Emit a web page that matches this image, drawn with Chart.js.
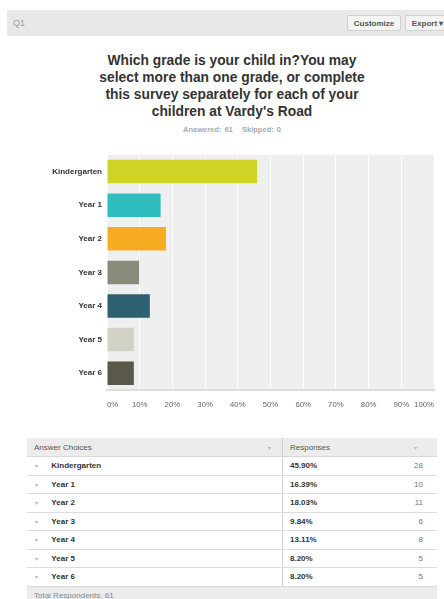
<!DOCTYPE html>
<html>
<head>
<meta charset="utf-8">
<script src="https://cdn.jsdelivr.net/npm/chart.js@4/dist/chart.umd.min.js"></script>
<style>
  body { margin: 0; width: 444px; height: 599px; overflow: hidden; background: #fff; font-family: "Liberation Sans", Arial, sans-serif; position: relative; }
  #topbar { position: absolute; left: 7px; top: 10px; width: 437px; height: 26px; background: #e8e8e8; }
  #q1 { position: absolute; left: 6px; top: 8px; font-size: 9px; color: #9a9a9a; }
  .btn { position: absolute; top: 5px; height: 16px; line-height: 16px; background: #f4f4f4; border: 1px solid #cfcfcf; border-radius: 2px; font-size: 8px; font-weight: bold; color: #555; text-align: center; box-sizing: border-box; }
  #title { position: absolute; left: 0; width: 464px; top: 52px; text-align: center; font-size: 13.8px; font-weight: bold; color: #333; line-height: 17px; }
  #answered { position: absolute; left: 0; width: 464px; top: 125px; text-align: center; font-size: 7.5px; font-weight: bold; color: #aaa; word-spacing: 1px; }
  #chartBox { position: absolute; left: 0; top: 145px; width: 444px; height: 270px; }
  table { position: absolute; left: 27px; top: 438px; width: 410px; border-collapse: collapse; font-size: 8px; color: #333; }
  td { height: 17.5px; padding: 0; border-bottom: 1px solid #dcdcdc; }
  thead td { background: #ececec; color: #555; height: 18px; border-bottom: 1px solid #d8d8d8; }
  .arrow { color: #b5b5b5; font-size: 6px; }
</style>
</head>
<body>
<div id="topbar">
  <div id="q1">Q1</div>
  <div class="btn" style="left:340px;width:54px;">Customize</div>
  <div class="btn" style="left:398px;width:45px;">Export &#9662;</div>
</div>
<div id="title">Which grade is your child in?You may<br>select more than one grade, or complete<br>this survey separately for each of your<br>children at Vardy's Road</div>
<div id="answered">Answered: 61&nbsp;&nbsp;&nbsp;Skipped: 0</div>
<div id="chartBox"><canvas id="chart"></canvas></div>
<table id="tbl"></table>
<script>
const categories = ['Kindergarten', 'Year 1', 'Year 2', 'Year 3', 'Year 4', 'Year 5', 'Year 6'];
const percents = [45.90, 16.39, 18.03, 9.84, 13.11, 8.20, 8.20];
const counts = [28, 10, 11, 6, 8, 5, 5];
const barColors = ['#cdd426', '#2fbdbf', '#f6ab22', '#8a8a7b', '#2e6170', '#d2d1c6', '#5a5849'];
const tickValues = [0, 10, 20, 30, 40, 50, 60, 70, 80, 90, 100];
const totalRespondents = 61;

// gray plot background behind the bars
const plotBg = {
    id: 'plotBg',
    beforeDraw(chart) {
        const a = chart.chartArea;
        const ctx = chart.ctx;
        ctx.save();
        ctx.fillStyle = '#efefef';
        ctx.fillRect(a.left, a.top, a.right - a.left, a.bottom - a.top);
        ctx.restore();
    }
};

new Chart(document.getElementById('chart'), {
    type: 'bar',
    data: {
        labels: categories,
        datasets: [{
            data: percents,
            backgroundColor: barColors,
            borderWidth: 0,
            categoryPercentage: 1,
            barPercentage: 0.7
        }]
    },
    plugins: [plotBg],
    options: {
        indexAxis: 'y',
        responsive: true,
        maintainAspectRatio: false,
        animation: false,
        layout: { padding: { top: 5, right: 8, left: 0, bottom: 0 } },
        plugins: { legend: { display: false }, tooltip: { enabled: false } },
        scales: {
            x: {
                min: 0,
                max: 100,
                afterBuildTicks(scale) {
                    scale.ticks = tickValues.map(v => ({ value: v }));
                },
                afterFit(scale) { scale.height = 25; },
                grid: { color: '#ffffff', lineWidth: 1, drawTicks: false },
                border: { display: true, color: '#dddddd', width: 2 },
                ticks: {
                    align: 'inner',
                    padding: 10,
                    color: '#666',
                    font: { family: 'Liberation Sans', size: 7.8 },
                    callback: v => v + '%'
                }
            },
            y: {
                afterFit(scale) { scale.width = 107; },
                grid: { display: false, drawTicks: false },
                border: { display: false },
                ticks: {
                    padding: 5,
                    color: '#333',
                    font: { family: 'Liberation Sans', size: 8, weight: 'bold' }
                }
            }
        }
    }
});

// response table under the chart
const tbl = document.getElementById('tbl');
let html = '<thead><tr>' +
    '<td style="padding-left:7px;width:234px;">Answer Choices</td>' +
    '<td style="width:14px;" class="arrow">&#9662;</td>' +
    '<td style="padding-left:7px;border-left:1px solid #d0d0d0;">Responses</td>' +
    '<td style="width:20px;" class="arrow">&#9662;</td></tr></thead><tbody>';
categories.forEach((c, i) => {
    html += '<tr>' +
        '<td style="padding-left:8px;"><span class="arrow">&#9662;</span>&nbsp;&nbsp;&nbsp;&nbsp;&nbsp;&nbsp;<b>' + c + '</b></td>' +
        '<td></td>' +
        '<td style="padding-left:7px;border-left:1px solid #d0d0d0;font-weight:bold;">' + percents[i].toFixed(2) + '%</td>' +
        '<td style="text-align:right;padding-right:14px;color:#777;">' + counts[i] + '</td></tr>';
});
html += '<tr><td colspan="4" style="background:#ececec;color:#888;padding-left:7px;border:none;">Total Respondents: ' + totalRespondents + '</td></tr></tbody>';
tbl.innerHTML = html;
</script>
</body>
</html>
